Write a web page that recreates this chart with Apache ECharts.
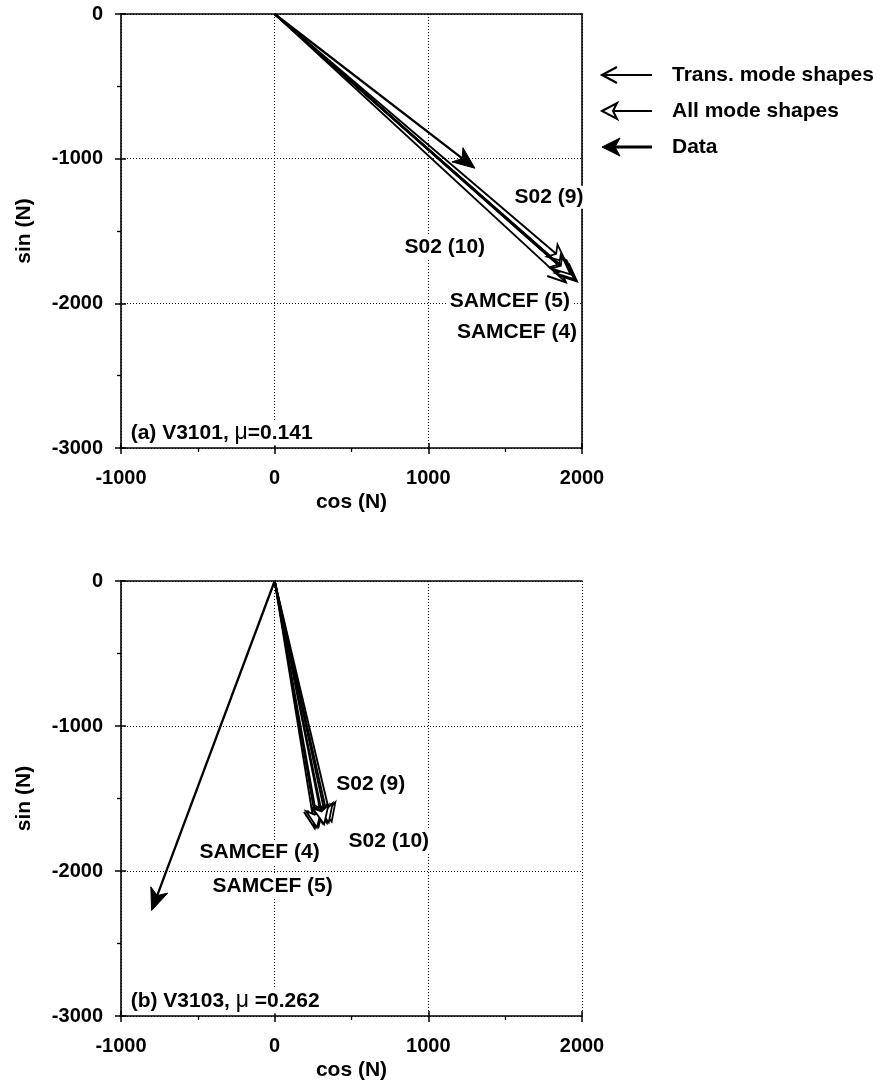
<!DOCTYPE html>
<html>
<head>
<meta charset="utf-8">
<script src="https://cdn.jsdelivr.net/npm/echarts@6/dist/echarts.min.js"></script>
<style>html,body{margin:0;padding:0;background:#fff}#c{width:884px;height:1084px}</style>
</head>
<body>
<div id="c"></div>
<script>
// ---- tick values ----
const xTicks = [-1000, 0, 1000, 2000];
const yTicks = [-3000, -2000, -1000, 0];
const xName = 'cos (N)';
const yName = 'sin (N)';
const legendNames = ['Trans. mode shapes', 'All mode shapes', 'Data'];

// ---- panel (a) V3101: arrow tips [cos, sin], models S02(9), S02(10), SAMCEF(5), SAMCEF(4) ----
const transA = [[1950, -1820], [1895, -1855], [1967, -1848], [1935, -1812]];
const allA   = [[1896, -1716], [1915, -1790], [1948, -1832], [1925, -1800]];
const dataA  = [[1303, -1066]];
// ---- panel (b) V3103 ----
const transB = [[313, -1671], [340, -1668], [261, -1706], [285, -1695]];
const allB   = [[371, -1660], [352, -1665], [275, -1700], [322, -1678]];
const dataB  = [[-801, -2273]];

// ---- annotation texts and anchor points (data coords) ----
const labelsA = [[1785, -1266, 'S02 (9)'], [1107, -1612, 'S02 (10)'], [1531, -1983, 'SAMCEF (5)'], [1577, -2197, 'SAMCEF (4)']];
const labelsB = [[625, -1401, 'S02 (9)'], [743, -1796, 'S02 (10)'], [-98, -1872, 'SAMCEF (4)'], [-13, -2107, 'SAMCEF (5)']];
const titleA = [[-950, -2896, '(a) V3101, ', '=0.141']];
const titleB = [[-950, -2896, '(b) V3103, ', ' =0.262']];

const FONT = '"Liberation Sans", Arial, Helvetica, sans-serif';
const BLACK = '#000';
const HEAD = {
  trans: {len: 18, half: 8, notch: 0, lw: 1.9, hw: 2},
  all:   {len: 18, half: 8, notch: 5, lw: 1.9, hw: 1.8},
  data:  {len: 22, half: 9, notch: 6, lw: 2.3, hw: 1}
};

function makeArrow(kind) {
  return function (params, api) {
    const p0 = api.coord([0, 0]);
    const p1 = api.coord([api.value(0), api.value(1)]);
    const dx = p1[0] - p0[0], dy = p1[1] - p0[1];
    const d = Math.sqrt(dx * dx + dy * dy);
    const ux = dx / d, uy = dy / d, nx = -uy, ny = ux;
    const S = HEAD[kind];
    const bx = p1[0] - ux * S.len, by = p1[1] - uy * S.len;
    const b1 = [bx + nx * S.half, by + ny * S.half];
    const b2 = [bx - nx * S.half, by - ny * S.half];
    const notch = [p1[0] - ux * (S.len - S.notch), p1[1] - uy * (S.len - S.notch)];
    const end = kind === 'trans' ? p1 : notch;
    const children = [{
      type: 'line',
      shape: {x1: p0[0], y1: p0[1], x2: end[0], y2: end[1]},
      style: {stroke: BLACK, lineWidth: S.lw}
    }];
    if (kind === 'trans') {
      children.push({type: 'polyline', shape: {points: [b1, p1, b2]},
        style: {stroke: BLACK, fill: null, lineWidth: S.hw, lineJoin: 'miter'}});
    } else {
      children.push({type: 'polygon', shape: {points: [p1, b1, notch, b2]},
        style: {stroke: BLACK, fill: kind === 'all' ? '#fff' : BLACK, lineWidth: S.hw, lineJoin: 'miter'}});
    }
    return {type: 'group', children: children};
  };
}

const txt = {color: BLACK, fontFamily: FONT, fontWeight: 'bold', fontSize: 21};

function xAxes(gi) {
  const base = {gridIndex: gi, type: 'value', min: xTicks[0], max: xTicks[xTicks.length - 1], interval: xTicks[1] - xTicks[0]};
  return [
    Object.assign({}, base, {
      position: 'bottom', name: xName, nameLocation: 'middle', nameGap: 44,
      nameTextStyle: Object.assign({}, txt),
      axisLine: {show: true, onZero: false, lineStyle: {color: BLACK, width: 1.6}},
      axisTick: {show: true, inside: false, length: 6, lineStyle: {color: BLACK, width: 1.5}},
      minorTick: {show: true, splitNumber: 2, length: 4, lineStyle: {color: BLACK, width: 1.3}},
      axisLabel: Object.assign({}, txt, {fontSize: 20, margin: 20, formatter: v => String(v)}),
      splitLine: {show: true, lineStyle: {color: BLACK, width: 1, type: [1, 2]}},
      minorSplitLine: {show: false}
    }),
    Object.assign({}, base, {
      position: 'bottom',
      axisLine: {show: false, onZero: false},
      axisTick: {show: true, inside: true, length: 5, lineStyle: {color: BLACK, width: 1.5}},
      axisLabel: {show: false}, splitLine: {show: false}
    }),
    Object.assign({}, base, {
      position: 'top',
      axisLine: {show: true, onZero: false, lineStyle: {color: BLACK, width: 1.6}},
      axisTick: {show: false}, axisLabel: {show: false}, splitLine: {show: false}
    })
  ];
}

function yAxes(gi, rightSolid) {
  const base = {gridIndex: gi, type: 'value', min: yTicks[0], max: yTicks[yTicks.length - 1], interval: yTicks[1] - yTicks[0]};
  const arr = [
    Object.assign({}, base, {
      position: 'left', name: yName, nameLocation: 'middle', nameGap: 86, nameRotate: 90,
      nameTextStyle: Object.assign({}, txt),
      axisLine: {show: true, onZero: false, lineStyle: {color: BLACK, width: 1.6}},
      axisTick: {show: true, inside: false, length: 6, lineStyle: {color: BLACK, width: 1.5}},
      minorTick: {show: true, splitNumber: 2, length: 4, lineStyle: {color: BLACK, width: 1.3}},
      axisLabel: Object.assign({}, txt, {fontSize: 20, margin: 18, formatter: v => String(v)}),
      splitLine: {show: true, lineStyle: {color: BLACK, width: 1, type: [1, 2]}},
      minorSplitLine: {show: false}
    }),
    Object.assign({}, base, {
      position: 'left',
      axisLine: {show: false, onZero: false},
      axisTick: {show: true, inside: true, length: 5, lineStyle: {color: BLACK, width: 1.5}},
      axisLabel: {show: false}, splitLine: {show: false}
    })
  ];
  if (rightSolid) {
    arr.push(Object.assign({}, base, {
      position: 'right',
      axisLine: {show: true, onZero: false, lineStyle: {color: BLACK, width: 1.6}},
      axisTick: {show: false}, axisLabel: {show: false}, splitLine: {show: false}
    }));
  }
  return arr;
}

function arrowSeries(name, kind, data, xi, yi) {
  return {name: name, type: 'custom', xAxisIndex: xi, yAxisIndex: yi, renderItem: makeArrow(kind),
    data: data, z: kind === 'data' ? 4 : 3, silent: true, clip: false};
}

const labelBase = Object.assign({}, txt, {show: true, position: 'inside', backgroundColor: '#fff',
  padding: [1, 2], textBorderWidth: 0, opacity: 1});

function labelSeries(data, xi, yi) {
  return {type: 'scatter', xAxisIndex: xi, yAxisIndex: yi, data: data, symbolSize: 0,
    itemStyle: {color: BLACK, opacity: 1}, silent: true, z: 6,
    label: Object.assign({}, labelBase, {formatter: p => p.value[2]})};
}

function titleSeries(data, xi, yi) {
  return {type: 'scatter', xAxisIndex: xi, yAxisIndex: yi, data: data, symbolSize: 0,
    itemStyle: {color: BLACK, opacity: 1}, silent: true, z: 6,
    label: Object.assign({}, labelBase, {align: 'left',
      formatter: p => p.value[2] + '{mu|\u03bc}' + p.value[3],
      rich: {mu: {fontFamily: FONT, fontWeight: 'normal', fontSize: 23, color: BLACK}}})};
}

// ---- legend glyphs (graphic) ----
function legendGraphic() {
  const rows = [75, 111, 147];
  const x0 = 602, x1 = 652, tx = 672;
  const els = [];
  legendNames.forEach((nm, i) => {
    const y = rows[i];
    const kind = ['trans', 'all', 'data'][i];
    if (kind === 'trans') {
      els.push({type: 'line', shape: {x1: x0, y1: y, x2: x1, y2: y}, style: {stroke: BLACK, lineWidth: 1.8}});
      els.push({type: 'polyline', shape: {points: [[x0 + 15, y - 8], [x0, y], [x0 + 15, y + 8]]},
        style: {stroke: BLACK, fill: null, lineWidth: 2.2}});
    } else if (kind === 'all') {
      els.push({type: 'line', shape: {x1: x0 + 11, y1: y, x2: x1, y2: y}, style: {stroke: BLACK, lineWidth: 1.8}});
      els.push({type: 'polygon', shape: {points: [[x0, y], [x0 + 15, y - 8], [x0 + 11, y], [x0 + 15, y + 8]]},
        style: {stroke: BLACK, fill: '#fff', lineWidth: 2}});
    } else {
      els.push({type: 'line', shape: {x1: x0 + 12, y1: y, x2: x1, y2: y}, style: {stroke: BLACK, lineWidth: 2.8}});
      els.push({type: 'polygon', shape: {points: [[x0, y], [x0 + 18, y - 9], [x0 + 13, y], [x0 + 18, y + 9]]},
        style: {stroke: BLACK, fill: BLACK, lineWidth: 1}});
    }
    els.push({type: 'text', x: tx, y: y, style: {text: nm, font: 'bold 21px ' + FONT, fill: BLACK,
      align: 'left', verticalAlign: 'middle'}});
  });
  return els;
}

const chart = echarts.init(document.getElementById('c'), null, {renderer: 'canvas'});
const xs = xAxes(0).concat(xAxes(1));
const ys = yAxes(0, true).concat(yAxes(1, false));
chart.setOption({
  backgroundColor: '#fff',
  animation: false,
  grid: [
    {left: 121, top: 14, width: 461, height: 434},
    {left: 121, top: 581, width: 461, height: 435}
  ],
  xAxis: xs,
  yAxis: ys,
  graphic: legendGraphic(),
  series: [
    arrowSeries(legendNames[0], 'trans', transA, 0, 0),
    arrowSeries(legendNames[1], 'all', allA, 0, 0),
    arrowSeries(legendNames[2], 'data', dataA, 0, 0),
    labelSeries(labelsA, 0, 0),
    titleSeries(titleA, 0, 0),
    arrowSeries(legendNames[0], 'trans', transB, 3, 3),
    arrowSeries(legendNames[1], 'all', allB, 3, 3),
    arrowSeries(legendNames[2], 'data', dataB, 3, 3),
    labelSeries(labelsB, 3, 3),
    titleSeries(titleB, 3, 3)
  ]
});
</script>
</body>
</html>
